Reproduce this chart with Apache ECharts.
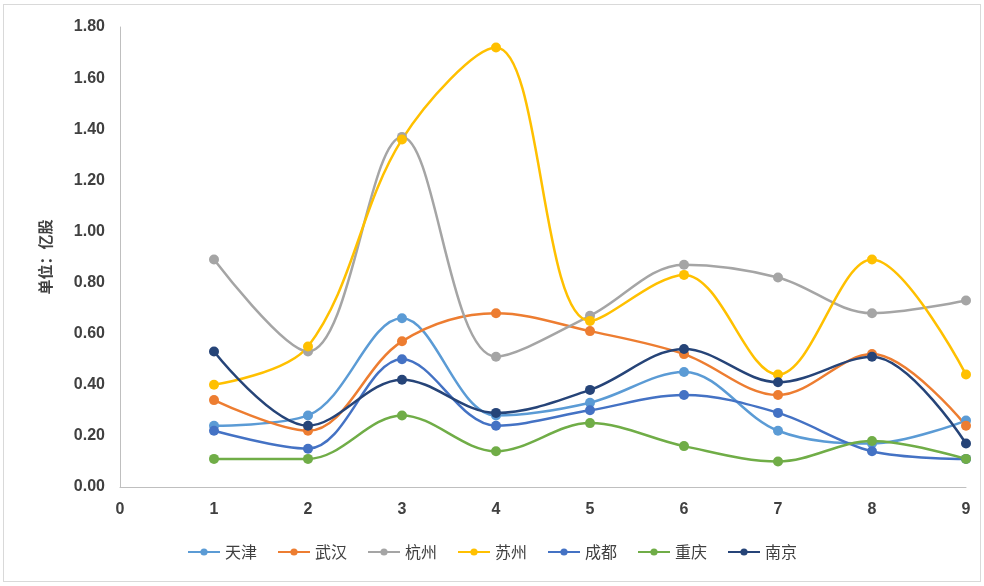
<!DOCTYPE html>
<html>
<head>
<meta charset="utf-8">
<script src="https://cdn.jsdelivr.net/npm/echarts@6/dist/echarts.min.js"></script>
<style>
html,body{margin:0;padding:0;background:#fff;}
#wrap{position:absolute;left:3px;top:4px;width:978px;height:578px;border:1px solid #d9d9d9;box-sizing:border-box;}
#c{position:absolute;left:0;top:0;width:984px;height:586px;}
</style>
</head>
<body>
<div id="wrap"></div>
<div id="c"></div>
<script>
var xValues = [1, 2, 3, 4, 5, 6, 7, 8, 9];
var seriesNames = ['天津', '武汉', '杭州', '苏州', '成都', '重庆', '南京'];
var tianjin   = [0.24, 0.28, 0.66, 0.28, 0.33, 0.45, 0.22, 0.17, 0.26];
var wuhan     = [0.34, 0.22, 0.57, 0.68, 0.61, 0.52, 0.36, 0.52, 0.24];
var hangzhou  = [0.89, 0.53, 1.37, 0.51, 0.67, 0.87, 0.82, 0.68, 0.73];
var suzhou    = [0.40, 0.55, 1.36, 1.72, 0.65, 0.83, 0.44, 0.89, 0.44];
var chengdu   = [0.22, 0.15, 0.50, 0.24, 0.30, 0.36, 0.29, 0.14, 0.11];
var chongqing = [0.11, 0.11, 0.28, 0.14, 0.25, 0.16, 0.10, 0.18, 0.11];
var nanjing   = [0.53, 0.24, 0.42, 0.29, 0.38, 0.54, 0.41, 0.51, 0.17];
var colors = ['#5B9BD5', '#ED7D31', '#A5A5A5', '#FFC000', '#4472C4', '#70AD47', '#264478'];
var allData = [tianjin, wuhan, hangzhou, suzhou, chengdu, chongqing, nanjing];

var chart = echarts.init(document.getElementById('c'));
var series = seriesNames.map(function (n, i) {
  return {
    name: n,
    type: 'line',
    smooth: 0.35,
    symbol: 'circle',
    symbolSize: 10,
    lineStyle: { width: 2.5, color: colors[i] },
    itemStyle: { color: colors[i] },
    data: xValues.map(function (x, j) { return [x, allData[i][j]]; })
  };
});
chart.setOption({
  animation: false,
  color: colors,
  grid: { left: 120, right: 18, top: 27, bottom: 99 },
  legend: {
    bottom: 21,
    left: 'center',
    itemWidth: 32,
    itemHeight: 9,
    itemGap: 20,
    textStyle: { fontSize: 16, color: '#404040', fontFamily: 'Noto Sans CJK SC' },
    data: seriesNames
  },
  xAxis: {
    type: 'value',
    min: 0, max: 9, interval: 1,
    axisLine: { show: true, lineStyle: { color: '#bfbfbf', width: 1 } },
    axisTick: { show: false },
    splitLine: { show: false },
    axisLabel: { fontSize: 16, fontWeight: 'bold', color: '#404040', margin: 15, fontFamily: 'Liberation Sans' }
  },
  yAxis: {
    type: 'value',
    min: 0, max: 1.8, interval: 0.2,
    name: '单位：亿股',
    nameLocation: 'middle',
    nameGap: 67,
    nameRotate: 90,
    nameTextStyle: { fontSize: 15, fontWeight: 'bold', color: '#404040', fontFamily: 'Noto Sans CJK SC' },
    axisLine: { show: true, lineStyle: { color: '#bfbfbf', width: 1 } },
    axisTick: { show: false },
    splitLine: { show: false },
    axisLabel: {
      fontSize: 16, fontWeight: 'bold', color: '#404040', margin: 15, fontFamily: 'Liberation Sans',
      formatter: function (v) { return v.toFixed(2); }
    }
  },
  series: series
});
</script>
</body>
</html>
